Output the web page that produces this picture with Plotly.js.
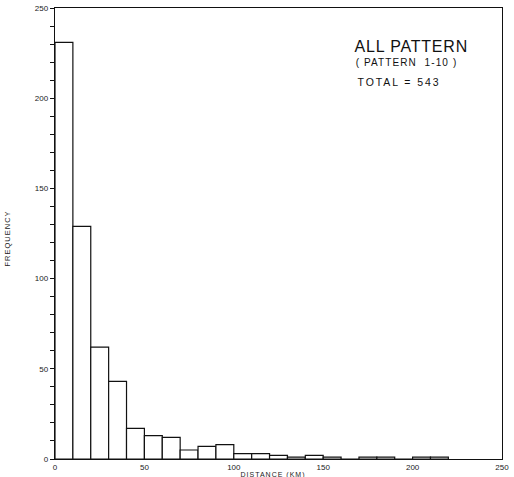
<!DOCTYPE html>
<html>
<head>
<meta charset="utf-8">
<script src="https://cdn.plot.ly/plotly-3.0.1.min.js"></script>
<style>html,body{margin:0;padding:0;background:#fff;}#chart{width:514px;height:477px;}</style>
</head>
<body>
<div id="chart"></div>
<script>
// Histogram of distances (bin start in km, width 10 km)
const binStarts = [0,10,20,30,40,50,60,70,80,90,100,110,120,130,140,150,160,170,180,190,200,210];
const counts    = [231,129,62,43,17,13,12,5,7,8,3,3,2,1,2,1,0,1,1,0,1,1];
const xTicks = [0,50,100,150,200,250];
const yTicks = [0,50,100,150,200,250];
const titleLines = ["ALL PATTERN", "( PATTERN  1-10 )", "TOTAL = 543"];
const xTitle = "DISTANCE (KM)";
const yTitle = "FREQUENCY";

const font = "Liberation Sans, Arial, sans-serif";

const trace = {
  type: "bar",
  x: binStarts,
  y: counts,
  width: 10,
  offset: 0,
  marker: {color: "#ffffff", line: {color: "#111111", width: 1.2}},
  hoverinfo: "skip"
};

const layout = {
  width: 514, height: 477,
  margin: {l: 55, r: 12, t: 8, b: 18},
  paper_bgcolor: "#ffffff", plot_bgcolor: "#ffffff",
  showlegend: false,
  bargap: 0,
  xaxis: {
    range: [0, 250], tickvals: xTicks, ticktext: xTicks.map(String),
    showgrid: false, zeroline: false, showline: true, linecolor: "#111", linewidth: 1.2, mirror: true,
    ticks: "", tickfont: {family: font, size: 8, color: "#222"}
  },
  yaxis: {
    range: [0, 250], tickvals: yTicks, ticktext: yTicks.map(String),
    showgrid: false, zeroline: false, showline: true, linecolor: "#111", linewidth: 1.2, mirror: true,
    ticks: "outside", ticklen: 4, tickcolor: "#111",
    minor: {dtick: 10, ticks: "outside", ticklen: 4, tickcolor: "#111"},
    tickfont: {family: font, size: 8, color: "#222"}
  },
  annotations: [
    {text: titleLines[0], xref: "paper", yref: "paper", x: 0.7975, y: 0.915, xanchor: "center", yanchor: "middle",
     showarrow: false, font: {family: font, size: 16, color: "#111"}},
    {text: titleLines[1], xref: "paper", yref: "paper", x: 0.787, y: 0.879, xanchor: "center", yanchor: "middle",
     showarrow: false, font: {family: font, size: 10, color: "#111"}},
    {text: titleLines[2], xref: "paper", yref: "paper", x: 0.769, y: 0.836, xanchor: "center", yanchor: "middle",
     showarrow: false, font: {family: font, size: 10.5, color: "#111"}},
    {text: xTitle, xref: "x", yref: "paper", x: 122, y: -0.035, xanchor: "center", yanchor: "middle",
     showarrow: false, font: {family: font, size: 7, color: "#222"}},
    {text: yTitle, xref: "paper", yref: "y", x: -0.105, y: 122, xanchor: "center", yanchor: "middle",
     textangle: -90, showarrow: false, font: {family: font, size: 7.5, color: "#222"}}
  ]
};

Plotly.newPlot("chart", [trace], layout, {displayModeBar: false, staticPlot: true}).then(function () {
  const spacing = ["0.8px", "1.1px", "1.9px", "1px", "1px"];
  document.querySelectorAll("#chart .annotation-text").forEach(function (el, i) {
    el.style.letterSpacing = spacing[i] || "0px";
  });
});
</script>
</body>
</html>
